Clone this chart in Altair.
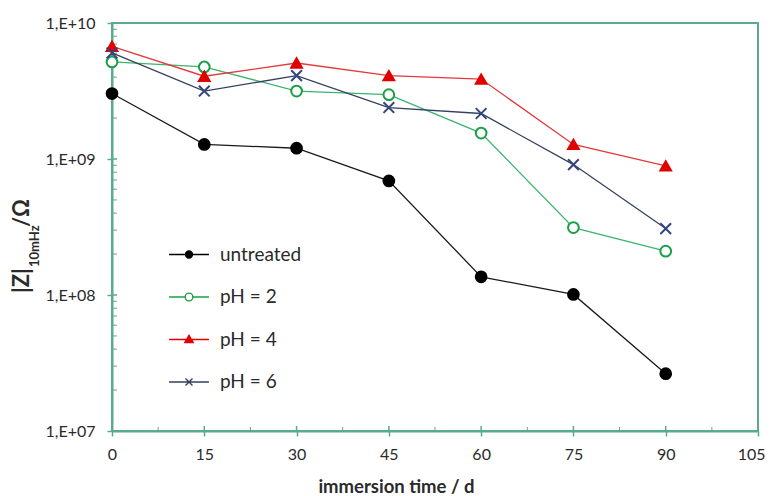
import altair as alt
import pandas as pd

# ---- data ----
days = [0, 15, 30, 45, 60, 75, 90]
series_names = ["untreated", "pH = 2", "pH = 4", "pH = 6"]
untreated = [3.03e9, 1.28e9, 1.20e9, 6.9e8, 1.36e8, 1.01e8, 2.64e7]
ph2 = [5.17e9, 4.75e9, 3.16e9, 2.97e9, 1.55e9, 3.13e8, 2.10e8]
ph4 = [6.74e9, 4.06e9, 5.08e9, 4.10e9, 3.87e9, 1.28e9, 8.9e8]
ph6 = [6.02e9, 3.16e9, 4.10e9, 2.39e9, 2.16e9, 9.1e8, 3.08e8]

# tick values
x_major = [0, 15, 30, 45, 60, 75, 90, 105]
x_minor = [7.5, 22.5, 37.5, 52.5, 67.5, 82.5, 97.5]
y_major = [1e7, 1e8, 1e9, 1e10]
y_minor = [m * 10 ** e for e in (7, 8, 9) for m in range(2, 10)]

rows = []
for name, vals in zip(series_names, [untreated, ph2, ph4, ph6]):
    for d, v in zip(days, vals):
        rows.append({"day": d, "z": v, "series": name})
df = pd.DataFrame(rows)

AX = "#5aab8c"
FONT = "Lato"
TXT = "#2a2a2a"
W, H = 646, 408

line_colors = ["#1a1a1a", "#3cb46e", "#e23a3a", "#34405e"]
marker_colors = ["#000000", "#1a9e48", "#e00000", "#33457e"]
marker_fills = ["#000000", "#ffffff", "#e00000", "#33457e"]
xpath = "M-1,-1L1,1M-1,1L1,-1"
marker_shapes = ["circle", "circle", "triangle-up", xpath]

legend_colors = ["#000000", "#1a9e48", "#e00000", "#34405e"]
legend_fills = ["#000000", "#ffffff", "#e00000", "#34405e"]
legend_shapes = [
    "M-5.7,0L5.7,0M-1,0A1,1,0,1,1,1,0A1,1,0,1,1,-1,0Z",
    "M-5.7,0L-1.1,0M1.1,0L5.7,0M-1.1,0A1.1,1.1,0,1,1,1.1,0A1.1,1.1,0,1,1,-1.1,0Z",
    "M-5.7,0L5.7,0M0,-1.2L1.2,0.9L-1.2,0.9Z",
    "M-5.7,0L5.7,0M-1,-1L1,1M-1,1L1,-1",
]

x_scale = alt.Scale(domain=[0, 105], nice=False, zero=False)
y_scale = alt.Scale(type="log", domain=[1e7, 1e10], nice=False)

x_axis = alt.Axis(values=x_major, title="immersion time / d", labelPadding=10, labelFlush=False,
                  labelAlign={"condition": {"test": "datum.value >= 105", "value": "right"}, "value": "center"},
                  labelOffset={"condition": {"test": "datum.value >= 105", "value": 7}, "value": 0},
                  titlePadding=15, titleFontWeight="bold", titleFontSize=18.5,
                  titleFont=FONT, titleColor=TXT, titleX=284, titleAlign="center")
y_axis = alt.Axis(values=y_major, title=None, labelPadding=12, labelFlush=False,
                  labelExpr="'1,E+' + format(round(log(datum.value) / LN10), '02d')")

x_enc = alt.X("day:Q", scale=x_scale, axis=x_axis)
y_enc = alt.Y("z:Q", scale=y_scale, axis=y_axis)

base = alt.Chart(df)

lines = base.mark_line(strokeWidth=1.3).encode(
    x=x_enc, y=y_enc,
    color=alt.Color("series:N", scale=alt.Scale(domain=series_names, range=line_colors), legend=None),
)

points = base.mark_point(opacity=1, size=115, strokeWidth=2).encode(
    x=x_enc, y=y_enc,
    color=alt.Color("series:N", scale=alt.Scale(domain=series_names, range=marker_colors), legend=None),
    fill=alt.Fill("series:N", scale=alt.Scale(domain=series_names, range=marker_fills), legend=None),
    shape=alt.Shape("series:N", scale=alt.Scale(domain=series_names, range=marker_shapes), legend=None),
)

leg = alt.Legend(title=None, orient="none", legendX=67.5, legendY=222,
                 labelFont=FONT, labelFontSize=19, labelColor=TXT, labelOffset=21.5,
                 rowPadding=22.5, padding=0, symbolStrokeWidth=1.4, symbolOpacity=1,
                 symbolSize=49)

legend_layer = base.mark_point(opacity=0, size=49, strokeWidth=1.4).encode(
    x=x_enc, y=y_enc,
    color=alt.Color("series:N", scale=alt.Scale(domain=series_names, range=legend_colors), legend=leg),
    fill=alt.Fill("series:N", scale=alt.Scale(domain=series_names, range=legend_fills), legend=leg),
    shape=alt.Shape("series:N", scale=alt.Scale(domain=series_names, range=legend_shapes), legend=leg),
)

# inner tick marks (axis ticks cross the axis line)
ymaj = alt.Chart(pd.DataFrame({"z": y_major})).mark_rule(color=AX, strokeWidth=1.5).encode(
    y=y_enc, x=alt.value(0), x2=alt.value(5))
ymin = alt.Chart(pd.DataFrame({"z": y_minor})).mark_rule(color=AX, strokeWidth=1).encode(
    y=y_enc, x=alt.value(0), x2=alt.value(5))
xmaj = alt.Chart(pd.DataFrame({"day": x_major})).mark_rule(color=AX, strokeWidth=1.5).encode(
    x=x_enc, y=alt.value(H - 5), y2=alt.value(H))
xmin = alt.Chart(pd.DataFrame({"day": x_minor})).mark_rule(color=AX, strokeWidth=1).encode(
    x=x_enc, y=alt.value(H - 4), y2=alt.value(H))

# y-axis title with subscript (rotated, reading bottom to top)
tsrc = alt.Data(values=[{"k": 0}])
t_z = alt.Chart(tsrc).mark_text(text="|Z|", angle=270, font=FONT, fontSize=22, fontWeight="bold",
                                color=TXT, align="left", baseline="middle").encode(
    x=alt.value(-90), y=alt.value(270))
t_sub = alt.Chart(tsrc).mark_text(text="10mHz", angle=270, font=FONT, fontSize=13, fontWeight="bold",
                                  color=TXT, align="left", baseline="middle").encode(
    x=alt.value(-77), y=alt.value(244))
t_om = alt.Chart(tsrc).mark_text(text="/Ω", angle=270, font=FONT, fontSize=22, fontWeight="bold",
                                 color=TXT, align="left", baseline="middle").encode(
    x=alt.value(-90), y=alt.value(204))

chart = alt.layer(
    ymin, ymaj, xmin, xmaj, lines, points, legend_layer, t_z, t_sub, t_om
).resolve_scale(
    color="independent", fill="independent", shape="independent"
).properties(
    width=W, height=H,
    padding={"left": 104, "top": 15, "right": 7, "bottom": 65},
    autosize=alt.AutoSizeParams(type="none"),
).configure_view(
    stroke=AX, strokeWidth=2
).configure_axis(
    domainColor=AX, domainWidth=2, tickColor=AX, tickWidth=1.5, tickSize=5,
    labelFont=FONT, labelFontSize=16, labelColor=TXT, grid=False,
)

chart.save("out.html", embed_options={"renderer": "svg", "actions": False})
